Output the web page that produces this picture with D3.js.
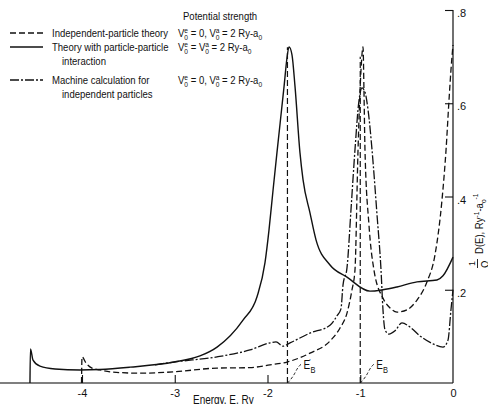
<!DOCTYPE html>
<html>
<head>
<meta charset="utf-8">
<script src="https://cdn.jsdelivr.net/npm/d3@7"></script>
<style>
  body { margin: 0; background: #fff; }
  svg text { font-family: "Liberation Sans", Arial, sans-serif; fill: #111; }
</style>
</head>
<body>
<div id="graph"></div>
<script>
// Values: [energy E (Ry), D(E)/Omega]
const interactionCurve = [
    [-4.561, 0], [-4.556, 0.073], [-4.528, 0.049], [-4.453, 0.036], [-4.291, 0.030], [-4.022, 0.028],
    [-3.806, 0.029], [-3.482, 0.034], [-3.008, 0.045], [-2.728, 0.058], [-2.544, 0.077], [-2.264, 0.135],
    [-2.113, 0.185], [-2.027, 0.258], [-1.984, 0.328], [-1.940, 0.414], [-1.898, 0.494], [-1.822, 0.635],
    [-1.790, 0.697], [-1.768, 0.721], [-1.736, 0.704], [-1.703, 0.635], [-1.650, 0.494], [-1.617, 0.436],
    [-1.542, 0.365], [-1.477, 0.307], [-1.326, 0.253], [-1.143, 0.227], [-0.895, 0.197], [-0.755, 0.200],
    [-0.604, 0.206], [-0.388, 0.217], [-0.173, 0.221], [-0.108, 0.230], [0, 0.270]
];

const independentCurve = [
    [-4.005, 0], [-4.0, 0.056], [-3.957, 0.043], [-3.892, 0.032], [-3.806, 0.028], [-3.698, 0.024],
    [-3.375, 0.021], [-3.008, 0.024], [-2.544, 0.032], [-2.189, 0.033], [-1.973, 0.039], [-1.790, 0.045],
    [-1.542, 0.064], [-1.326, 0.090], [-1.218, 0.118], [-1.143, 0.150], [-1.089, 0.200], [-1.057, 0.242],
    [-1.024, 0.500], [-0.992, 0.671], [-0.970, 0.721], [-0.960, 0.628], [-0.949, 0.500], [-0.906, 0.339],
    [-0.852, 0.242], [-0.755, 0.182], [-0.679, 0.161], [-0.604, 0.152], [-0.496, 0.157], [-0.388, 0.178],
    [-0.280, 0.217], [-0.194, 0.275], [-0.119, 0.392], [-0.075, 0.500], [-0.043, 0.607], [-0.022, 0.671],
    [0, 0.725]
];

const machineCurve = [
    [-3.213, 0.039], [-3.008, 0.045], [-2.544, 0.056], [-2.189, 0.071], [-1.973, 0.086], [-1.908, 0.088],
    [-1.833, 0.079], [-1.757, 0.086], [-1.542, 0.107], [-1.326, 0.124], [-1.251, 0.144], [-1.208, 0.159],
    [-1.186, 0.210], [-1.143, 0.247], [-1.100, 0.371], [-1.057, 0.500], [-1.013, 0.607], [-0.981, 0.633],
    [-0.949, 0.624], [-0.916, 0.586], [-0.873, 0.500], [-0.819, 0.360], [-0.776, 0.242], [-0.755, 0.157],
    [-0.733, 0.114], [-0.690, 0.105], [-0.625, 0.112], [-0.550, 0.129], [-0.464, 0.120], [-0.356, 0.101],
    [-0.216, 0.084], [-0.108, 0.077], [-0.054, 0.092], [-0.022, 0.157], [0, 0.200]
];

// Bound states drawn as vertical dashed lines
const boundStates = [
    { name: "E", prime: true, e: -1.785, top: 0.72 },
    { name: "E", prime: false, e: -1.0, top: 0.70 }
];

const xTicks = [-4, -3, -2, -1, 0];
const yTicks = [0.2, 0.4, 0.6, 0.8];

const legendRows = [
    { lines: ["Independent-particle theory"], dash: "6,3", equal: "0" },
    { lines: ["Theory with particle-particle", "interaction"], dash: null, equal: "V" },
    { lines: ["Machine calculation for", "independent particles"], dash: "9,2,2,2", equal: "0" }
];

const width = 488, height = 404;
const squeeze = 0.83; // the original lettering is a condensed face

const svg = d3.select("#graph").append("svg")
    .attr("width", width)
    .attr("height", height);

// Text helper: condensed lettering anchored at (x, y)
function label(parent, x, y, size) {
    return parent.append("text")
        .attr("transform", `translate(${x}, ${y}) scale(${squeeze}, 1)`)
        .attr("font-size", size);
}

const x = d3.scaleLinear().domain([-4, 0]).range([82, 453]);
const y = d3.scaleLinear().domain([0, 0.8]).range([383, 10]);

const line = d3.line()
    .x(d => x(d[0]))
    .y(d => y(d[1]))
    .curve(d3.curveMonotoneX);

// Axes lines
svg.append("line")
    .attr("x1", 0).attr("x2", x(0))
    .attr("y1", y(0)).attr("y2", y(0))
    .attr("stroke", "#555").attr("stroke-width", 1.6);

svg.append("line")
    .attr("x1", x(0)).attr("x2", x(0))
    .attr("y1", y(0)).attr("y2", y(0.8))
    .attr("stroke", "#111").attr("stroke-width", 1.2);

// Bottom axis: ticks point up
const bottomAxis = d3.axisBottom(x)
    .tickValues(xTicks)
    .tickSize(-8)
    .tickPadding(6)
    .tickFormat(d => String(d));

const gx = svg.append("g")
    .attr("transform", `translate(0, ${y(0)})`)
    .call(bottomAxis);
gx.select(".domain").remove();
gx.selectAll(".tick line").attr("stroke", "#111").attr("stroke-width", 1.1)
    .filter(d => d === 0).remove();
gx.selectAll("text").attr("font-size", 11).attr("fill", "#111");

// Right axis: ticks point left
const rightAxis = d3.axisRight(y)
    .tickValues(yTicks)
    .tickSize(-8)
    .tickPadding(4)
    .tickFormat(d => d3.format(".1f")(d).replace(/^0/, ""));

const gy = svg.append("g")
    .attr("transform", `translate(${x(0)}, 0)`)
    .call(rightAxis);
gy.select(".domain").remove();
gy.selectAll(".tick line").attr("stroke", "#111").attr("stroke-width", 1.1);
gy.selectAll("text").attr("font-size", 11).attr("dy", "0.6em").attr("fill", "#111");

// Axis titles
label(svg, 193, 404, 12).text("Energy, E, Ry");

const yTitle = svg.append("g")
    .attr("transform", `translate(483, 268) rotate(-90)`);
yTitle.append("text").attr("x", 2).attr("y", -8).attr("font-size", 9).text("1");
yTitle.append("line").attr("x1", 0).attr("x2", 9).attr("y1", -5.5).attr("y2", -5.5)
    .attr("stroke", "#111").attr("stroke-width", 0.9);
yTitle.append("text").attr("x", 0).attr("y", 6).attr("font-size", 10).text("Ω");
const yt = label(yTitle, 14, 0, 11.5);
yt.append("tspan").text("D(E), Ry");
yt.append("tspan").attr("dy", -4).attr("font-size", 8).text("-1");
yt.append("tspan").attr("dy", 4).text("-a");
yt.append("tspan").attr("dy", 3).attr("font-size", 8).text("o");
yt.append("tspan").attr("dy", -8).attr("font-size", 8).text("-1");

// Curves
svg.append("path").datum(independentCurve)
    .attr("d", line).attr("fill", "none")
    .attr("stroke", "#111").attr("stroke-width", 1.3)
    .attr("stroke-dasharray", "6,3");

svg.append("path").datum(machineCurve)
    .attr("d", line).attr("fill", "none")
    .attr("stroke", "#111").attr("stroke-width", 1.3)
    .attr("stroke-dasharray", "9,2,2,2");

svg.append("path").datum(interactionCurve)
    .attr("d", line).attr("fill", "none")
    .attr("stroke", "#111").attr("stroke-width", 1.4);

// Bound state markers
boundStates.forEach(b => {
    const x0 = x(b.e);
    svg.append("line")
        .attr("x1", x0).attr("x2", x0)
        .attr("y1", y(0)).attr("y2", y(b.top))
        .attr("stroke", "#111").attr("stroke-width", 1.2)
        .attr("stroke-dasharray", "6,3");
    svg.append("path")
        .attr("d", `M${x0},${y(0)} Q${x0 + 5},${y(0) - 5} ${x0 + 8},${y(0) - 11} T${x0 + 14},${y(0) - 19}`)
        .attr("fill", "none").attr("stroke", "#111").attr("stroke-width", 0.9)
        .attr("stroke-dasharray", "3,2");
    const t = label(svg, x0 + 16, y(0) - 14, 12);
    t.append("tspan").text(b.name);
    if (b.prime) t.append("tspan").attr("dy", -5).attr("dx", -1).attr("font-size", 8).text("′");
    t.append("tspan").attr("dy", b.prime ? 9 : 4).attr("font-size", 9).text("B");
});

// Legend
const legend = svg.append("g");
label(legend, 183, 20, 11.5).text("Potential strength");

const rowY = [33, 47, 80];
legendRows.forEach((r, i) => {
    const ly = rowY[i];
    const l = legend.append("line")
        .attr("x1", 10).attr("x2", 43).attr("y1", ly).attr("y2", ly)
        .attr("stroke", "#111").attr("stroke-width", 1.3);
    if (r.dash) l.attr("stroke-dasharray", r.dash);
    r.lines.forEach((s, j) => {
        label(legend, j === 0 ? 52 : 62, ly + 4 + j * 14, 11.5).text(s);
    });
    const v = label(legend, 178, ly + 4, 11.5);
    v.append("tspan").text("V");
    v.append("tspan").attr("dy", -4).attr("font-size", 8).text("e");
    v.append("tspan").attr("dy", 7).attr("dx", -4.5).attr("font-size", 8).text("0");
    v.append("tspan").attr("dy", -3).text(r.equal === "V" ? " = V" : " = 0, V");
    v.append("tspan").attr("dy", -4).attr("font-size", 8).text("a");
    v.append("tspan").attr("dy", 7).attr("dx", -4.5).attr("font-size", 8).text("0");
    v.append("tspan").attr("dy", -3).text(" = 2 Ry-a");
    v.append("tspan").attr("dy", 3).attr("font-size", 8).text("0");
});
</script>
</body>
</html>
